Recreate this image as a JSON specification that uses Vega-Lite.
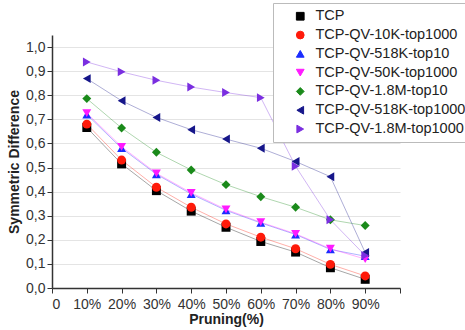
{
  "$schema": "https://vega.github.io/schema/vega-lite/v6.json",
  "width": 348,
  "height": 253,
  "autosize": "none",
  "padding": {"left": 52, "top": 35, "right": 65, "bottom": 42},
  "background": "white",
  "data": {
    "values": [
      {"x": 10, "y": 0.666, "s": "TCP"}, {"x": 20, "y": 0.515, "s": "TCP"}, {"x": 30, "y": 0.404, "s": "TCP"}, {"x": 40, "y": 0.319, "s": "TCP"}, {"x": 50, "y": 0.252, "s": "TCP"}, {"x": 60, "y": 0.193, "s": "TCP"}, {"x": 70, "y": 0.149, "s": "TCP"}, {"x": 80, "y": 0.084, "s": "TCP"}, {"x": 90, "y": 0.036, "s": "TCP"},
      {"x": 10, "y": 0.68, "s": "TCP-QV-10K-top1000"}, {"x": 20, "y": 0.531, "s": "TCP-QV-10K-top1000"}, {"x": 30, "y": 0.418, "s": "TCP-QV-10K-top1000"}, {"x": 40, "y": 0.335, "s": "TCP-QV-10K-top1000"}, {"x": 50, "y": 0.266, "s": "TCP-QV-10K-top1000"}, {"x": 60, "y": 0.211, "s": "TCP-QV-10K-top1000"}, {"x": 70, "y": 0.163, "s": "TCP-QV-10K-top1000"}, {"x": 80, "y": 0.098, "s": "TCP-QV-10K-top1000"}, {"x": 90, "y": 0.05, "s": "TCP-QV-10K-top1000"},
      {"x": 10, "y": 0.72, "s": "TCP-QV-518K-top10"}, {"x": 20, "y": 0.58, "s": "TCP-QV-518K-top10"}, {"x": 30, "y": 0.472, "s": "TCP-QV-518K-top10"}, {"x": 40, "y": 0.39, "s": "TCP-QV-518K-top10"}, {"x": 50, "y": 0.322, "s": "TCP-QV-518K-top10"}, {"x": 60, "y": 0.27, "s": "TCP-QV-518K-top10"}, {"x": 70, "y": 0.222, "s": "TCP-QV-518K-top10"}, {"x": 80, "y": 0.16, "s": "TCP-QV-518K-top10"}, {"x": 90, "y": 0.132, "s": "TCP-QV-518K-top10"},
      {"x": 10, "y": 0.726, "s": "TCP-QV-50K-top1000"}, {"x": 20, "y": 0.586, "s": "TCP-QV-50K-top1000"}, {"x": 30, "y": 0.476, "s": "TCP-QV-50K-top1000"}, {"x": 40, "y": 0.395, "s": "TCP-QV-50K-top1000"}, {"x": 50, "y": 0.326, "s": "TCP-QV-50K-top1000"}, {"x": 60, "y": 0.273, "s": "TCP-QV-50K-top1000"}, {"x": 70, "y": 0.225, "s": "TCP-QV-50K-top1000"}, {"x": 80, "y": 0.163, "s": "TCP-QV-50K-top1000"}, {"x": 90, "y": 0.12, "s": "TCP-QV-50K-top1000"},
      {"x": 10, "y": 0.786, "s": "TCP-QV-1.8M-top10"}, {"x": 20, "y": 0.664, "s": "TCP-QV-1.8M-top10"}, {"x": 30, "y": 0.563, "s": "TCP-QV-1.8M-top10"}, {"x": 40, "y": 0.49, "s": "TCP-QV-1.8M-top10"}, {"x": 50, "y": 0.429, "s": "TCP-QV-1.8M-top10"}, {"x": 60, "y": 0.379, "s": "TCP-QV-1.8M-top10"}, {"x": 70, "y": 0.335, "s": "TCP-QV-1.8M-top10"}, {"x": 80, "y": 0.283, "s": "TCP-QV-1.8M-top10"}, {"x": 90, "y": 0.259, "s": "TCP-QV-1.8M-top10"},
      {"x": 10, "y": 0.869, "s": "TCP-QV-518K-top1000"}, {"x": 20, "y": 0.777, "s": "TCP-QV-518K-top1000"}, {"x": 30, "y": 0.708, "s": "TCP-QV-518K-top1000"}, {"x": 40, "y": 0.657, "s": "TCP-QV-518K-top1000"}, {"x": 50, "y": 0.618, "s": "TCP-QV-518K-top1000"}, {"x": 60, "y": 0.58, "s": "TCP-QV-518K-top1000"}, {"x": 70, "y": 0.525, "s": "TCP-QV-518K-top1000"}, {"x": 80, "y": 0.462, "s": "TCP-QV-518K-top1000"}, {"x": 90, "y": 0.147, "s": "TCP-QV-518K-top1000"},
      {"x": 10, "y": 0.938, "s": "TCP-QV-1.8M-top1000"}, {"x": 20, "y": 0.897, "s": "TCP-QV-1.8M-top1000"}, {"x": 30, "y": 0.862, "s": "TCP-QV-1.8M-top1000"}, {"x": 40, "y": 0.834, "s": "TCP-QV-1.8M-top1000"}, {"x": 50, "y": 0.811, "s": "TCP-QV-1.8M-top1000"}, {"x": 60, "y": 0.79, "s": "TCP-QV-1.8M-top1000"}, {"x": 70, "y": 0.505, "s": "TCP-QV-1.8M-top1000"}, {"x": 80, "y": 0.283, "s": "TCP-QV-1.8M-top1000"}, {"x": 90, "y": 0.135, "s": "TCP-QV-1.8M-top1000"}
    ]
  },
  "encoding": {
    "x": {"field": "x", "type": "quantitative", "scale": {"domain": [0, 100], "nice": false},
      "axis": {"values": [0, 10, 20, 30, 40, 50, 60, 70, 80, 90, 100], "grid": false, "title": "Pruning(%)", "titleFontWeight": "bold", "titlePadding": 1, "labelPadding": 4, "tickSize": 5,
        "labelExpr": "datum.value == 0 ? '0' : (datum.value == 100 ? '' : datum.value + '%')"}},
    "y": {"field": "y", "type": "quantitative", "scale": {"domain": [0, 1.05], "nice": false},
      "axis": {"values": [0, 0.1, 0.2, 0.3, 0.4, 0.5, 0.6, 0.7, 0.8, 0.9, 1.0], "grid": true, "gridColor": "#e4e4e4", "gridWidth": 1.2, "title": "Symmetric Difference", "titleFontWeight": "bold", "titlePadding": 4, "tickSize": 5, "labelPadding": 2,
        "labelExpr": "replace(format(datum.value, '.1f'), '.', ',')"}},
    "color": {"field": "s", "type": "nominal", "title": null,
      "scale": {"domain": ["TCP", "TCP-QV-10K-top1000", "TCP-QV-518K-top10", "TCP-QV-50K-top1000", "TCP-QV-1.8M-top10", "TCP-QV-518K-top1000", "TCP-QV-1.8M-top1000"],
        "range": ["#000000", "#ff1a0a", "#1a2cff", "#ff1aff", "#1a8a1a", "#16168a", "#7a2ee0"]}}
  },
  "layer": [
    {"mark": {"type": "line", "strokeWidth": 1, "strokeOpacity": 0.35}, "encoding": {"detail": {"field": "s"}}},
    {"mark": {"type": "point", "filled": true, "opacity": 1, "size": 80},
      "encoding": {"shape": {"field": "s", "type": "nominal", "title": null,
        "scale": {"domain": ["TCP", "TCP-QV-10K-top1000", "TCP-QV-518K-top10", "TCP-QV-50K-top1000", "TCP-QV-1.8M-top10", "TCP-QV-518K-top1000", "TCP-QV-1.8M-top1000"],
          "range": ["square", "circle", "triangle-up", "triangle-down", "diamond", "triangle-left", "triangle-right"]}}}}
  ],
  "config": {
    "font": "Liberation Sans",
    "view": {"stroke": null},
    "axis": {"labelFont": "Liberation Sans", "titleFont": "Liberation Sans", "labelFontSize": 14, "labelColor": "#333", "titleFontSize": 14, "titleColor": "#222", "domainColor": "#333", "tickColor": "#333", "domainWidth": 1.5},
    "legend": {"orient": "none", "legendX": 221, "legendY": -32, "fillColor": "white", "strokeColor": "#bbb", "padding": 6, "labelFontSize": 14.5, "labelFont": "Liberation Sans", "labelColor": "#222", "symbolSize": 60, "rowPadding": 3.8, "symbolOffset": 14, "labelOffset": 8, "labelLimit": 300, "symbolStrokeWidth": 1}
  }
}
